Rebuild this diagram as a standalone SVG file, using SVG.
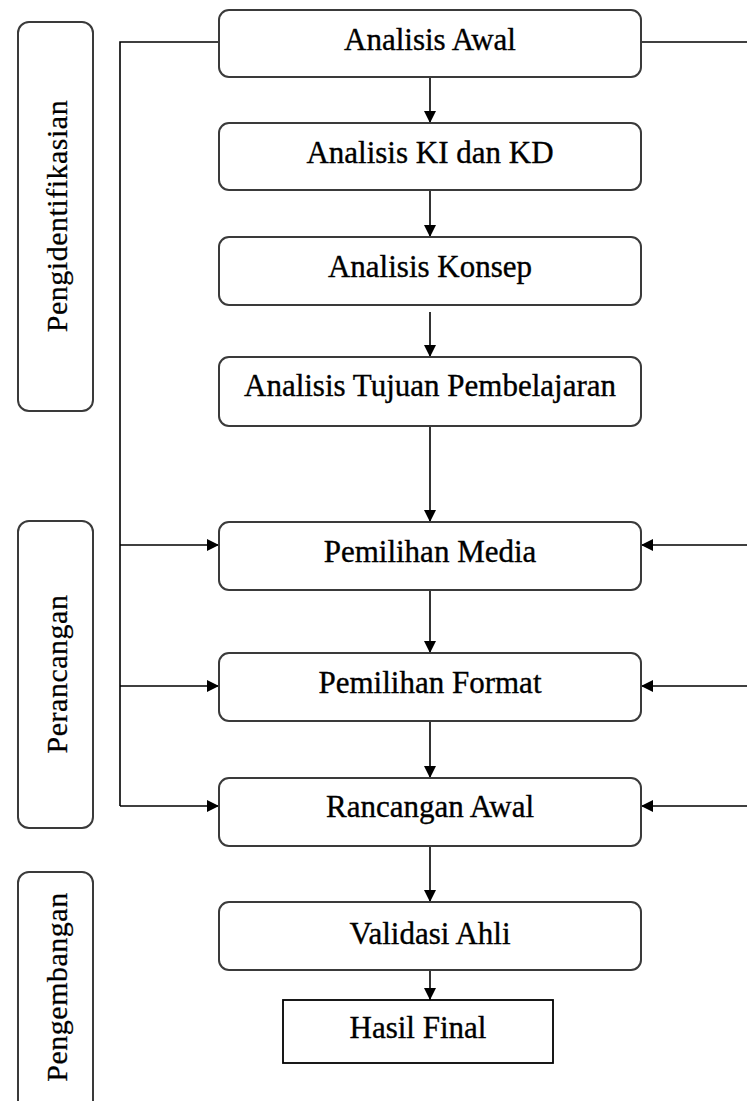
<svg xmlns="http://www.w3.org/2000/svg" width="747" height="1101" viewBox="0 0 747 1101">
<style>
.box{fill:#fff;stroke:#3a3a3a;stroke-width:2}
.lbl{font-family:"Liberation Serif","Times New Roman",serif;font-size:31px;fill:#000;stroke:#000;stroke-width:0.35;text-anchor:middle;dominant-baseline:central}
.side{font-family:"Liberation Serif","Times New Roman",serif;font-size:30px;fill:#000;stroke:#000;stroke-width:0.25;text-anchor:middle;dominant-baseline:central;letter-spacing:0.5px}
.ln{fill:none;stroke:#000;stroke-width:1.6}
</style>
<defs>
<marker id="ah" viewBox="0 0 10 10" refX="10" refY="5" markerWidth="12" markerHeight="12" markerUnits="userSpaceOnUse" orient="auto">
<path d="M0,0 L10,5 L0,10 Z" fill="#000"/>
</marker>
</defs>
<rect width="747" height="1101" fill="#fff"/>
<g id="phase-identifikasi"><rect class="box" x="18" y="22" width="75" height="389" rx="11"/><text class="side" transform="translate(56,216) rotate(-90)">Pengidentifikasian</text></g>
<g id="phase-perancangan"><rect class="box" x="18" y="521" width="75" height="307" rx="11"/><text class="side" transform="translate(56,674) rotate(-90)">Perancangan</text></g>
<g id="phase-pengembangan"><rect class="box" x="18" y="872" width="75" height="240" rx="11"/><text class="side" transform="translate(56,987) rotate(-90)">Pengembangan</text></g>
<g id="connectors">
<path class="ln" d="M219,42 H120 V806"/>
<path class="ln" d="M641,42 H747"/>
<path class="ln" d="M120,545 H219" marker-end="url(#ah)"/>
<path class="ln" d="M120,686 H219" marker-end="url(#ah)"/>
<path class="ln" d="M120,806 H219" marker-end="url(#ah)"/>
<path class="ln" d="M747,545 H641" marker-end="url(#ah)"/>
<path class="ln" d="M747,686 H641" marker-end="url(#ah)"/>
<path class="ln" d="M747,806 H641" marker-end="url(#ah)"/>
<path class="ln" d="M430,77 V123" marker-end="url(#ah)"/>
<path class="ln" d="M430,190 V237" marker-end="url(#ah)"/>
<path class="ln" d="M430,312 V357" marker-end="url(#ah)"/>
<path class="ln" d="M430,426 V522" marker-end="url(#ah)"/>
<path class="ln" d="M430,590 V653" marker-end="url(#ah)"/>
<path class="ln" d="M430,721 V778" marker-end="url(#ah)"/>
<path class="ln" d="M430,846 V902" marker-end="url(#ah)"/>
<path class="ln" d="M430,970 V1000" marker-end="url(#ah)"/>
</g>
<g id="n1"><rect class="box" x="219" y="10" width="422" height="67" rx="10"/><text class="lbl" x="430" y="39">Analisis Awal</text></g>
<g id="n2"><rect class="box" x="219" y="123" width="422" height="67" rx="10"/><text class="lbl" x="430" y="152">Analisis KI dan KD</text></g>
<g id="n3"><rect class="box" x="219" y="237" width="422" height="68" rx="10"/><text class="lbl" x="430" y="266">Analisis Konsep</text></g>
<g id="n4"><rect class="box" x="219" y="357" width="422" height="69" rx="10"/><text class="lbl" x="430" y="385">Analisis Tujuan Pembelajaran</text></g>
<g id="n5"><rect class="box" x="219" y="522" width="422" height="68" rx="10"/><text class="lbl" x="430" y="551">Pemilihan Media</text></g>
<g id="n6"><rect class="box" x="219" y="653" width="422" height="68" rx="10"/><text class="lbl" x="430" y="682">Pemilihan Format</text></g>
<g id="n7"><rect class="box" x="219" y="778" width="422" height="68" rx="10"/><text class="lbl" x="430" y="806">Rancangan Awal</text></g>
<g id="n8"><rect class="box" x="219" y="902" width="422" height="68" rx="10"/><text class="lbl" x="430" y="933">Validasi Ahli</text></g>
<g id="n9"><rect x="283" y="1000" width="270" height="63" fill="#fff" stroke="#000" stroke-width="1.8"/><text class="lbl" x="418" y="1027">Hasil Final</text></g>
</svg>
